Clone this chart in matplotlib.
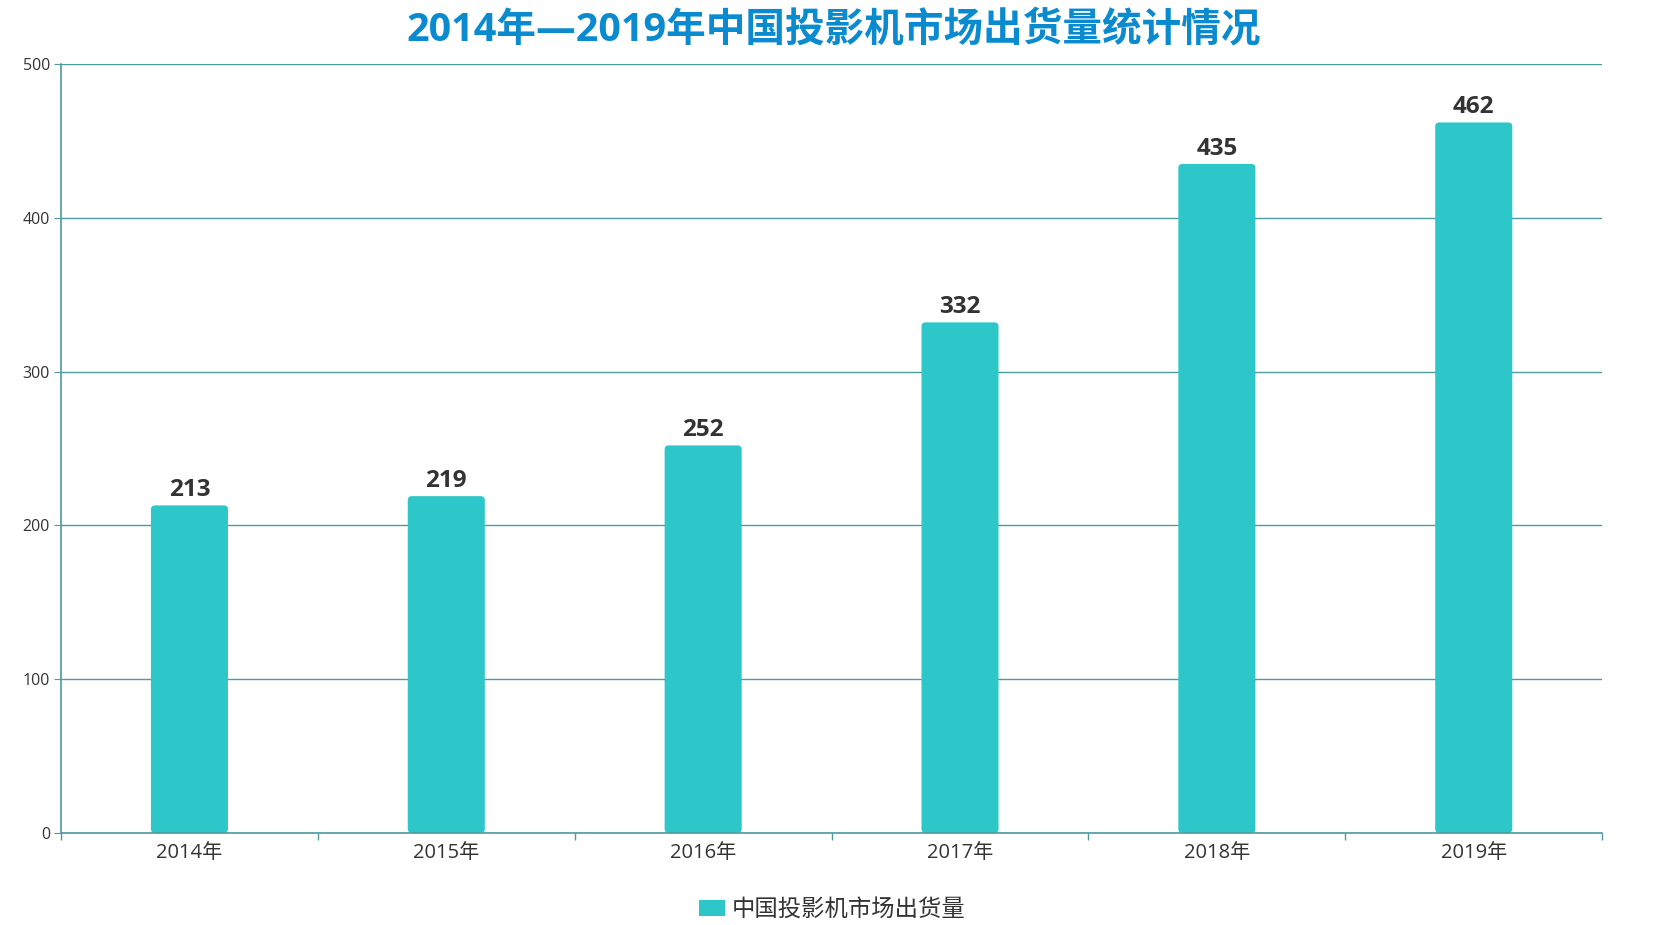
import matplotlib.pyplot as plt
from matplotlib.patches import FancyBboxPatch

plt.rcParams['font.family'] = ['Open Sans', 'Noto Sans CJK SC', 'DejaVu Sans']

years = ['2014年', '2015年', '2016年', '2017年', '2018年', '2019年']
shipments = [213, 219, 252, 332, 435, 462]
series_name = '中国投影机市场出货量'
title = '2014年—2019年中国投影机市场出货量统计情况'

bar_color = '#2ec7c9'
line_color = '#4d9aa3'

fig = plt.figure(figsize=(16.67, 9.25), dpi=100)
ax = fig.add_axes([0.0366, 0.0995, 0.9245, 0.8313])

x = list(range(len(years)))
bars = ax.bar(x, shipments, width=0.3, color=bar_color)

# swap the square bars for rounded ones
for b in bars:
    b.set_visible(False)
    p = FancyBboxPatch((b.get_x(), b.get_y()), b.get_width(), b.get_height(),
                       boxstyle='round,pad=0,rounding_size=0.016',
                       mutation_aspect=165, facecolor=bar_color, edgecolor='none')
    ax.add_patch(p)

for xi, v in zip(x, shipments):
    ax.text(xi, v + 2, str(v), ha='center', va='bottom', fontsize=17.5,
            fontweight='bold', color='#333333')

ax.set_xlim(-0.5, len(years) - 0.5)
ax.set_ylim(0, 500)
ax.set_yticks(range(0, 501, 100))
ax.set_xticks(x)
ax.set_xticklabels(years, fontsize=14.5, color='#333333')
ax.set_xticks([i - 0.5 for i in range(len(years) + 1)], minor=True)
ax.tick_params(axis='x', which='major', length=0, pad=7)
ax.tick_params(axis='x', which='minor', length=5, color=line_color, width=1)
ax.tick_params(axis='y', length=5, color=line_color, labelsize=11.5,
               labelcolor='#333333', pad=3)

ax.grid(axis='y', color=line_color, linewidth=1)
ax.set_axisbelow(True)
for s in ['top', 'right']:
    ax.spines[s].set_visible(False)
for s in ['left', 'bottom']:
    ax.spines[s].set_color(line_color)
    ax.spines[s].set_linewidth(1.2)

fig.text(0.5, 0.968, title, ha='center', va='center', fontsize=28.5,
         fontweight='bold', color='#0a8bd0')

handle = FancyBboxPatch((0, 0), 1, 1, boxstyle='round,pad=0,rounding_size=0.2',
                        facecolor=bar_color, edgecolor='none')
fig.legend([handle], [series_name], loc='center', bbox_to_anchor=(0.4995, 0.016),
           frameon=False, fontsize=16.8, handlelength=1.1, handleheight=0.7,
           handletextpad=0.3, labelcolor='#333333')

fig.savefig('out.png', dpi=100)
